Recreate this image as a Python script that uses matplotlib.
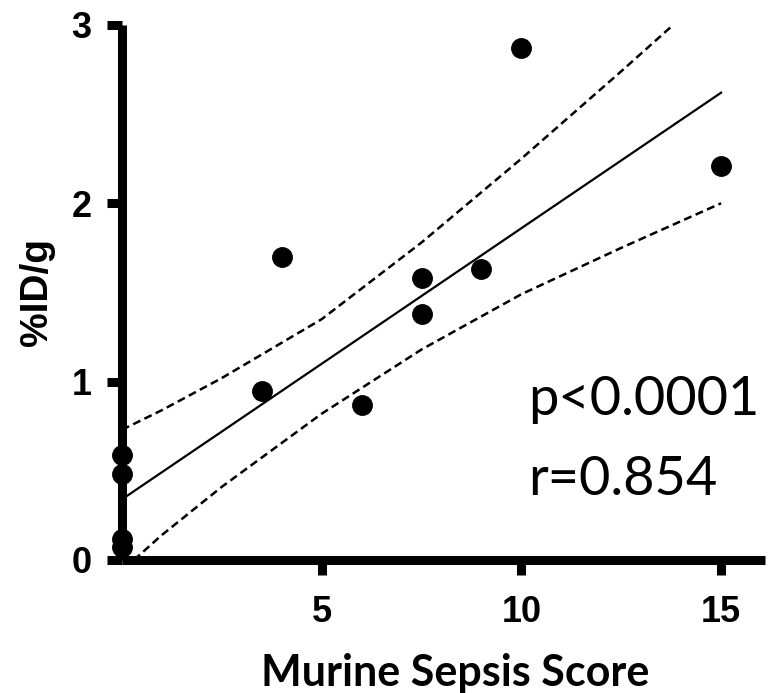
import numpy as np
import matplotlib
matplotlib.use("Agg")
import matplotlib.pyplot as plt

# Data points
sepsis_score = [0, 0, 0, 0, 3.5, 4, 6, 7.5, 7.5, 9, 10, 15]
pct_id_g = [0.59, 0.48, 0.12, 0.07, 0.95, 1.70, 0.87, 1.58, 1.38, 1.63, 2.87, 2.21]

# Regression line and 95% confidence band as drawn in the reference
fit_x = [0, 15]
fit_y = [0.34, 2.62]
upper_x = [0, 1, 2.5, 5, 7.5, 10, 12.5, 13.8]
upper_y = [0.73, 0.84, 1.02, 1.35, 1.78, 2.25, 2.74, 3.0]
lower_x = [0.3, 1, 2.5, 5, 7.5, 10, 12.5, 15]
lower_y = [0.0, 0.14, 0.41, 0.82, 1.18, 1.49, 1.75, 2.0]

x_ticks = [5, 10, 15]
y_ticks = [0, 1, 2, 3]
stats_text = ["p<0.0001", "r=0.854"]

fig = plt.figure(figsize=(7.71, 6.93), dpi=100)
ax = fig.add_axes([0.1582, 0.192, 0.834, 0.772])

dash = (0, (3.2, 1.8))
ax.plot(fit_x, fit_y, color="black", lw=1.6)
ax.plot(upper_x, upper_y, color="black", lw=1.8, ls=dash)
ax.plot(lower_x, lower_y, color="black", lw=1.8, ls=dash)
ax.plot(sepsis_score, pct_id_g, "o", color="black", ms=14, clip_on=False, zorder=5)

ax.set_xlim(0, 16.1)
ax.set_ylim(0, 3)
ax.set_xticks(x_ticks)
ax.set_yticks(y_ticks)

for side in ["top", "right"]:
    ax.spines[side].set_visible(False)
for side in ["left", "bottom"]:
    ax.spines[side].set_linewidth(6.5)
    ax.spines[side].set_capstyle("butt")
ax.tick_params(axis="both", length=11, width=6.5, direction="out")
ax.tick_params(axis="y", pad=11)
ax.tick_params(axis="x", pad=14)
for lab in ax.get_xticklabels() + ax.get_yticklabels():
    lab.set_fontfamily("Liberation Sans")
    lab.set_fontweight("bold")
    lab.set_fontsize(26)

ax.set_ylabel("%ID/g", fontfamily="Liberation Sans", fontweight="bold",
              fontsize=28, labelpad=12)
fig.text(0.591, 0.010, "Murine Sepsis Score", ha="center", va="baseline",
         fontfamily="Lato", fontweight="bold", fontsize=31)

fig.text(0.685, 0.401, stats_text[0], ha="left", va="baseline",
         fontfamily="Lato", fontsize=39)
fig.text(0.685, 0.286, stats_text[1], ha="left", va="baseline",
         fontfamily="Lato", fontsize=39)

fig.savefig("out.png", dpi=100)
